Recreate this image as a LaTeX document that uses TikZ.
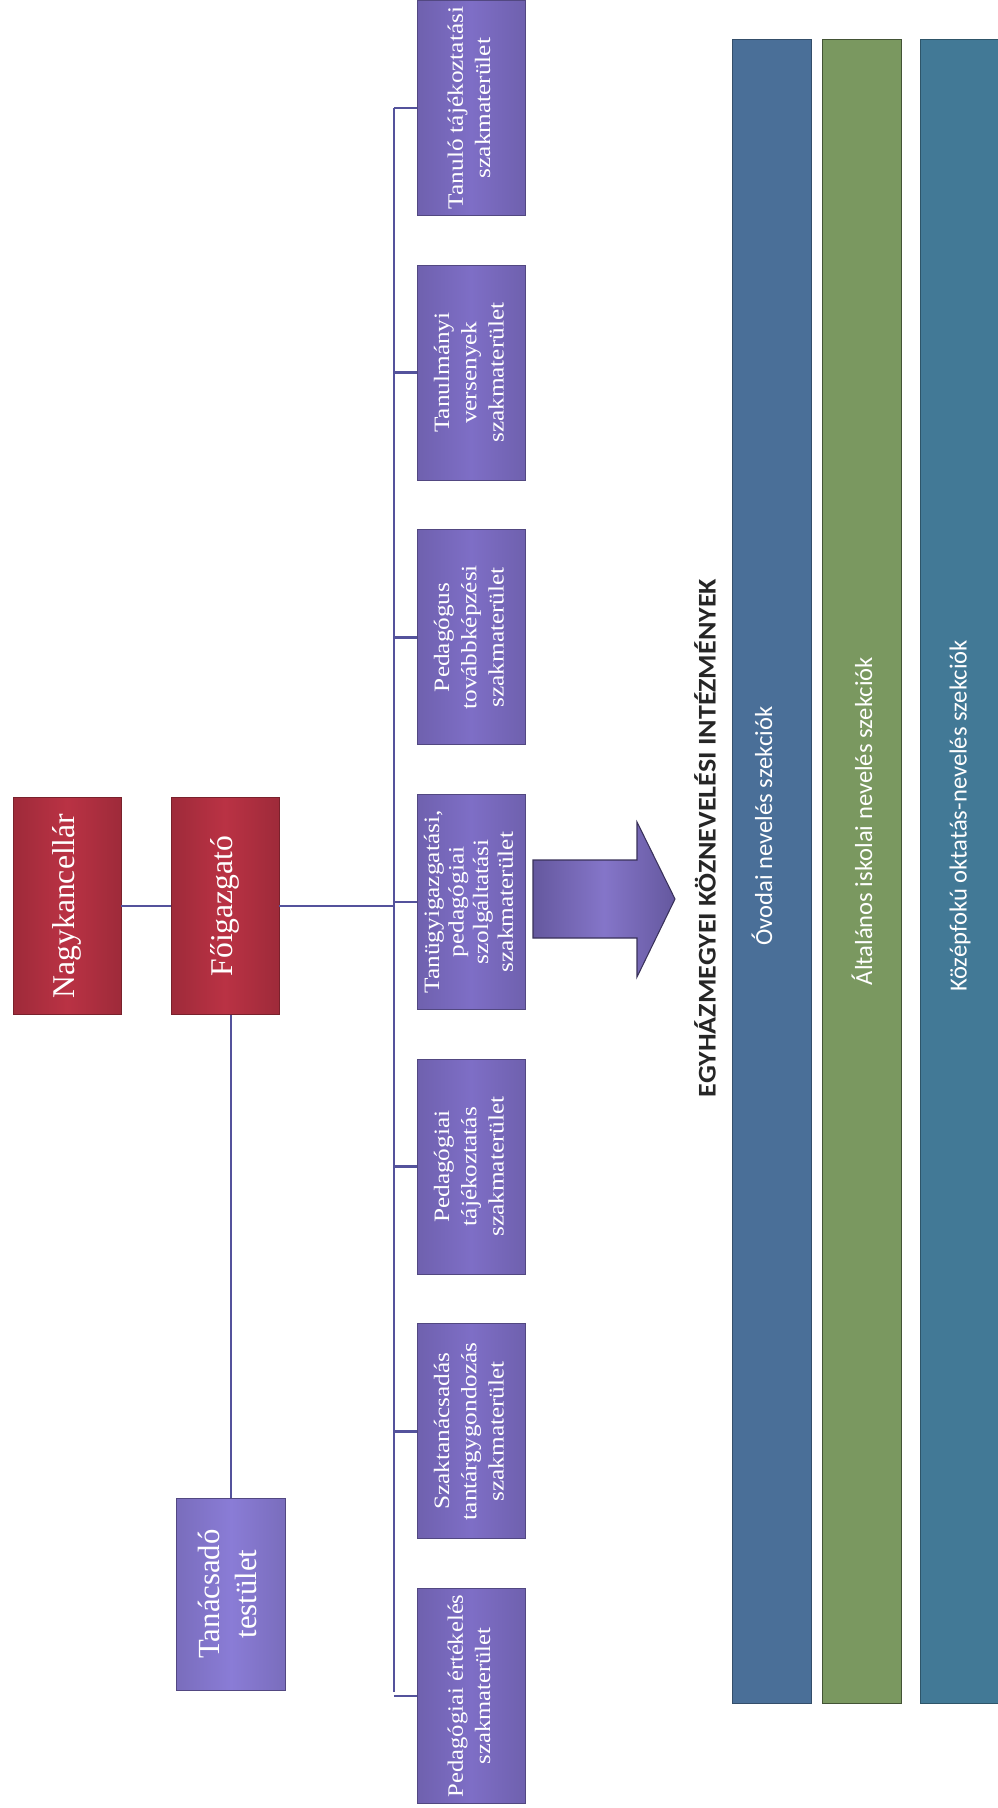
\documentclass[tikz,border=0pt]{standalone}
\usepackage{fontspec}
\setmainfont{Liberation Serif}
\newfontfamily\barfont{Carlito}
\usepackage{xcolor}
\usepackage{tikz}
\usetikzlibrary{positioning}
\definecolor{chiefred}{RGB}{186,50,68}
\definecolor{unitpurple}{RGB}{126,110,198}
\definecolor{boardpurple}{RGB}{138,124,214}
\definecolor{linkblue}{RGB}{84,82,156}
\definecolor{barblue}{RGB}{74,111,152}
\definecolor{bargreen}{RGB}{122,152,96}
\definecolor{barteal}{RGB}{66,121,150}
\newcommand{\vtext}[2][1]{\rotatebox{90}{\scalebox{#1}[1]{\begin{tabular}{@{}c@{}}#2\end{tabular}}}}

\begin{document}
\begin{tikzpicture}[x=0.02cm, y=-0.02cm,
  chief/.style={draw=chiefred!65!black, left color=chiefred!85!black, right color=chiefred!85!black, middle color=chiefred, text=white, minimum width=2.16cm, minimum height=4.34cm, inner sep=0pt, font=\fontsize{18}{21}\selectfont},
  unit/.style={draw=unitpurple!65!black, left color=unitpurple!88!black, right color=unitpurple!88!black, middle color=unitpurple, text=white, minimum width=2.16cm, minimum height=4.3cm, inner sep=0pt, font=\fontsize{12.5}{15.5}\selectfont},
  board/.style={unit, left color=boardpurple!88!black, right color=boardpurple!88!black, middle color=boardpurple, minimum width=2.18cm, minimum height=3.84cm, font=\fontsize{17.5}{21}\selectfont},
  link/.style={draw=linkblue, line width=1.6pt},
  band/.style={minimum width=1.58cm, minimum height=33.28cm, inner sep=0pt},
  bandlabel/.style={rotate=90, text=white, font=\barfont\fontsize{14}{16}\selectfont}]
\useasboundingbox (0,0) rectangle (997,1808);
% leadership
\node[chief] (nagy) at (67,906) {\vtext{Nagykancellár}};
\node[chief] (fo) at (225,906) {\vtext{Főigazgató}};
\node[board] (tan) at (231,1594) {\vtext{Tanácsadó\\testület}};
% professional areas
\node[unit] (u1) at (471,108) {\vtext[1.15]{Tanuló tájékoztatási\\szakmaterület}};
\node[unit, below=0.98cm of u1] (u2) {\vtext[1.15]{Tanulmányi\\versenyek\\szakmaterület}};
\node[unit, below=0.98cm of u2] (u3) {\vtext[1.15]{Pedagógus\\továbbképzési\\szakmaterület}};
\node[unit, below=0.98cm of u3, font=\fontsize{12.5}{14}\selectfont] (u4) {\vtext[1.15]{Tanügyigazgatási,\\pedagógiai\\szolgáltatási\\szakmaterület}};
\node[unit, below=0.98cm of u4] (u5) {\vtext[1.15]{Pedagógiai\\tájékoztatás\\szakmaterület}};
\node[unit, below=0.98cm of u5] (u6) {\vtext[1.15]{Szaktanácsadás\\tantárgygondozás\\szakmaterület}};
\node[unit, below=0.98cm of u6] (u7) {\vtext[1.12]{Pedagógiai értékelés\\szakmaterület}};
\coordinate (bustop) at (394,108);
\coordinate (busbot) at (394,1692);
\draw[link] (bustop) -- (busbot);
\draw[link] (nagy) -- (fo);
\draw[link] (fo.east) -- (fo.east -| bustop);
\draw[link] (tan.north) -- (tan.north |- fo.south);
\draw[link] (u1.west) -- (u1.west -| bustop);
\draw[link] (u2.west) -- (u2.west -| bustop);
\draw[link] (u3.west) -- (u3.west -| bustop);
\draw[link] (u4.west) -- (u4.west -| bustop);
\draw[link] (u5.west) -- (u5.west -| bustop);
\draw[link] (u6.west) -- (u6.west -| bustop);
\draw[link] (u7.west) -- (u7.west -| bustop);
% big arrow
\draw[draw=unitpurple!45!black, line width=0.6pt, left color=unitpurple!80!black, right color=unitpurple!80!black, middle color=unitpurple!95!white]
  (533,860) -- (637,860) -- (637,822) -- (675,899) -- (637,977) -- (637,938) -- (533,938) -- cycle;
% institutions
\node[rotate=90, text=black!85, font=\barfont\bfseries\fontsize{14.5}{17}\selectfont] (title) at (705,838) {\scalebox{1.1}[1]{EGYHÁZMEGYEI KÖZNEVELÉSI INTÉZMÉNYEK}};
\node[band, fill=barblue, draw=barblue!70!black] (b1) at (772,871) {};
\node[band, fill=bargreen, draw=bargreen!55!black] (b2) at (862,871) {};
\node[band, fill=barteal, draw=barteal!70!black] (b3) at (960,871) {};
\node[bandlabel] (l1) at ([yshift=0.9cm,xshift=-0.2cm]b1.center) {Óvodai nevelés szekciók};
\node[bandlabel] (l2) at ([yshift=1.0cm]b2.center) {Általános iskolai nevelés szekciók};
\node[bandlabel] (l3) at ([yshift=1.1cm]b3.center) {Középfokú oktatás-nevelés szekciók};
\end{tikzpicture}
\end{document}
